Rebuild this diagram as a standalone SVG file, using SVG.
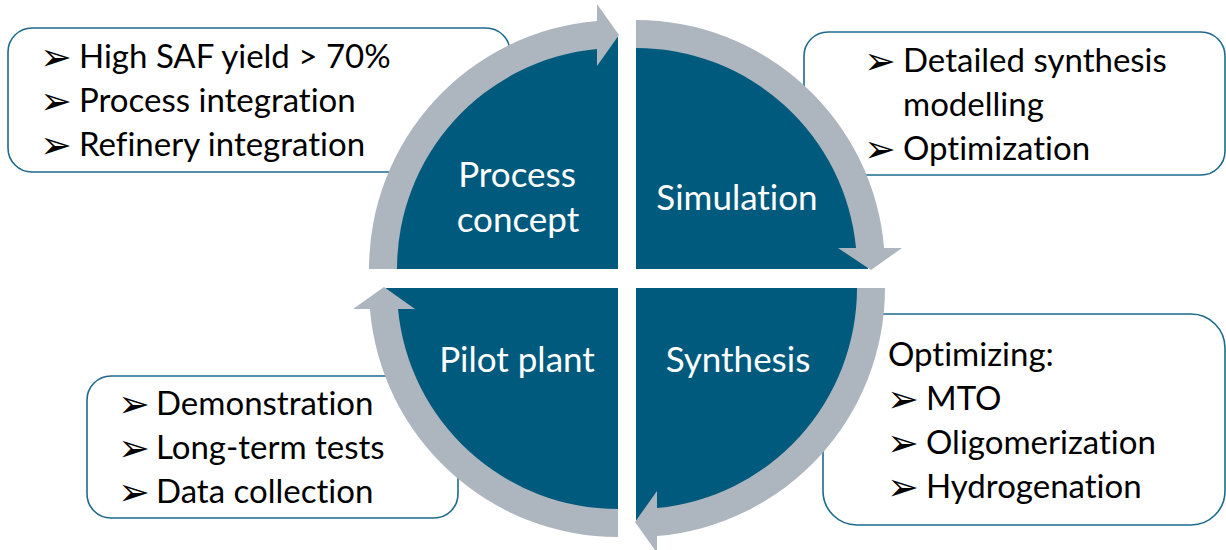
<svg xmlns="http://www.w3.org/2000/svg" width="1226" height="550" viewBox="0 0 1226 550">
<style>
.box{fill:#ffffff;stroke:#1d6a8d;stroke-width:1.6}
.t{font-family:Lato,"Liberation Sans",sans-serif;font-size:33px;fill:#000;font-variant-ligatures:none}
.b{font-family:"DejaVu Sans",sans-serif;font-size:38px;fill:#000}
.pie{fill:#005a7d}
.band{fill:#adb5bf}
.q{font-family:Lato,"Liberation Sans",sans-serif;font-size:35px;fill:#ffffff;text-anchor:middle;font-variant-ligatures:none}
</style>
<rect width="1226" height="550" fill="#ffffff"/>
<g id="box-process">
<rect class="box" x="8" y="28" width="502" height="144" rx="24"/>
<text class="b" x="40" y="70">➢</text><text class="t" x="79" y="68">High SAF yield &gt; 70%</text>
<text class="b" x="40" y="114">➢</text><text class="t" x="79" y="112">Process integration</text>
<text class="b" x="40" y="158">➢</text><text class="t" x="79" y="156">Refinery integration</text>
</g>
<g id="box-simulation">
<rect class="box" x="804" y="32" width="421" height="143" rx="24"/>
<text class="b" x="864" y="74">➢</text><text class="t" x="903" y="72">Detailed synthesis</text>
<text class="t" x="903" y="116">modelling</text>
<text class="b" x="864" y="162">➢</text><text class="t" x="903" y="160">Optimization</text>
</g>
<g id="box-synthesis">
<rect class="box" x="823" y="314" width="402" height="211" rx="34"/>
<text class="t" x="888" y="366">Optimizing:</text>
<text class="b" x="887" y="412">➢</text><text class="t" x="926" y="410">MTO</text>
<text class="b" x="887" y="456">➢</text><text class="t" x="926" y="454">Oligomerization</text>
<text class="b" x="887" y="500">➢</text><text class="t" x="926" y="498">Hydrogenation</text>
</g>
<g id="box-pilot">
<rect class="box" x="87" y="376" width="371" height="142" rx="24"/>
<text class="b" x="118" y="417">➢</text><text class="t" x="156" y="415">Demonstration</text>
<text class="b" x="118" y="461">➢</text><text class="t" x="156" y="459">Long-term tests</text>
<text class="b" x="118" y="505">➢</text><text class="t" x="156" y="503">Data collection</text>
</g>
<g id="node-process-concept">
<path class="pie" d="M618 269 L386 269 A232 232 0 0 1 618 37 Z"/>
<text class="q" x="517" y="187">Process</text>
<text class="q" x="518" y="232">concept</text>
</g>
<g id="node-simulation">
<path class="pie" d="M636 269 L636 37 A232 232 0 0 1 868 269 Z"/>
<text class="q" x="737" y="210">Simulation</text>
</g>
<g id="node-synthesis">
<path class="pie" d="M636 288 L868 288 A232 232 0 0 1 636 520 Z"/>
<text class="q" x="738" y="372">Synthesis</text>
</g>
<g id="node-pilot-plant">
<path class="pie" d="M618 288 L618 520 A232 232 0 0 1 386 288 Z"/>
<text class="q" x="517" y="372">Pilot plant</text>
</g>
<g id="connectors">
<path class="band" d="M369 269 A249 249 0 0 1 597 20.9 L597 4 L619 35 L597 66 L597 49 A221 221 0 0 0 397 269 Z"/>
<path class="band" d="M636 20 A249 249 0 0 1 884.1 248 L902 248 L871 270 L838 248 L856 248 A221 221 0 0 0 636 48 Z"/>
<path class="band" d="M885 288 A249 249 0 0 1 657 536.1 L657 553 L635 522 L657 491 L657 508 A221 221 0 0 0 857 288 Z"/>
<path class="band" d="M618 537 A249 249 0 0 1 369.9 309 L353 309 L384 287 L415 309 L398 309 A221 221 0 0 0 618 509 Z"/>
</g>
</svg>
